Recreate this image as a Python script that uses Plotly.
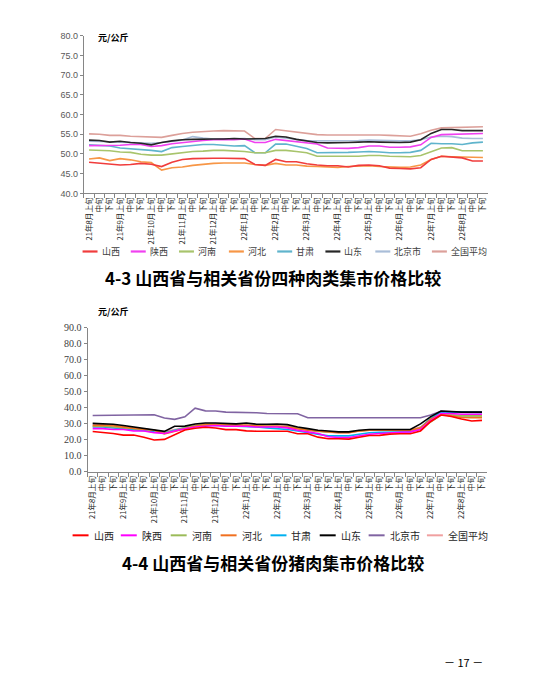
import plotly.graph_objects as go

# time axis: 21年8月 .. 22年8月, three ten-day periods each
months = ["21年8月", "21年9月", "21年10月", "21年11月", "21年12月", "22年1月", "22年2月",
          "22年3月", "22年4月", "22年5月", "22年6月", "22年7月", "22年8月"]
periods = ["上旬", "中旬", "下旬"]
categories = [m + p for m in months for p in periods]
tick_labels = [m + p if p == "上旬" else p for m in months for p in periods]

names = ["山西", "陕西", "河南", "河北", "甘肃", "山东", "北京市", "全国平均"]

# 4-3 四种肉类 (元/公斤)
shanxi_meat = [47.9, 47.7, 47.5, 47.2, 47.3, 47.6, 47.4, 46.8, 47.9, 48.6,
               48.8, 48.9, 48.9, 48.9, 48.8, 48.8, 47.3, 47.1, 48.6, 48.0,
               48.0, 47.5, 47.2, 47.0, 47.0, 46.7, 47.1, 47.2, 47.0, 46.4,
               46.3, 46.2, 46.5, 48.6, 49.4, 49.2, 49.0, 48.2, 48.2]
shaanxi_meat = [52.1, 52.1, 52.1, 52.2, 52.4, 52.4, 51.9, 52.1, 52.6, 52.9,
                53.2, 53.4, 53.6, 53.7, 53.6, 53.8, 52.9, 52.9, 53.7, 53.4,
                53.0, 52.7, 52.5, 51.5, 51.4, 51.4, 51.6, 52.0, 52.0, 51.7,
                51.7, 51.8, 52.3, 54.2, 54.9, 55.0, 55.0, 55.1, 55.2]
henan_meat = [51.0, 50.9, 50.8, 50.5, 50.4, 49.9, 49.7, 49.7, 50.0, 50.4,
              50.6, 50.7, 50.9, 50.9, 50.8, 50.6, 50.3, 50.3, 50.9, 50.9,
              50.6, 50.3, 49.4, 49.4, 49.4, 49.4, 49.4, 49.6, 49.6, 49.4,
              49.3, 49.3, 49.6, 50.6, 51.5, 51.6, 50.8, 50.8, 50.8]
hebei_meat = [48.7, 49.0, 48.3, 48.8, 48.5, 48.0, 47.8, 45.9, 46.5, 46.7,
              47.1, 47.4, 47.6, 47.7, 47.7, 47.7, 47.3, 47.1, 47.6, 47.2,
              47.2, 46.9, 46.8, 46.7, 46.6, 46.8, 46.9, 47.0, 46.8, 46.7,
              46.6, 46.7, 47.2, 48.6, 49.4, 49.3, 49.2, 49.1, 49.1]
gansu_meat = [52.3, 52.2, 52.0, 51.5, 51.3, 51.2, 50.9, 50.6, 51.6, 51.9,
              52.1, 52.4, 52.4, 52.2, 52.0, 52.1, 50.3, 50.3, 52.5, 52.5,
              52.0, 51.4, 50.3, 50.3, 50.3, 50.4, 50.5, 50.6, 50.5, 50.3,
              50.3, 50.4, 50.9, 52.7, 52.6, 52.6, 52.4, 52.8, 53.0]
shandong_meat = [53.5, 53.4, 53.0, 53.2, 52.9, 52.7, 52.3, 52.9, 53.3, 53.6,
                 53.7, 53.8, 53.8, 53.8, 53.9, 53.8, 53.8, 53.9, 54.5, 54.3,
                 53.7, 53.3, 52.9, 52.8, 52.8, 52.9, 53.0, 53.1, 53.0, 52.9,
                 52.9, 53.0, 53.6, 55.2, 56.2, 56.2, 55.9, 55.9, 55.9]
beijing_meat = [53.2, 53.2, 53.1, 53.0, 52.9, 52.9, 52.7, 52.9, 53.2, 53.5,
                54.4, 54.0, 53.8, 53.8, 53.9, 53.9, 53.6, 53.6, 54.3, 54.0,
                53.6, 53.4, 53.3, 53.3, 53.3, 53.3, 53.4, 53.5, 53.4, 53.3,
                53.3, 53.3, 53.6, 54.3, 54.5, 54.4, 54.0, 53.9, 53.9]
national_meat = [55.1, 55.0, 54.7, 54.7, 54.5, 54.4, 54.2, 54.2, 54.7, 55.2,
                 55.5, 55.7, 55.8, 55.9, 55.8, 55.8, 53.9, 53.9, 56.2, 55.9,
                 55.6, 55.2, 54.9, 54.8, 54.8, 54.8, 54.8, 54.9, 54.8, 54.7,
                 54.6, 54.5, 55.1, 56.0, 56.6, 56.7, 56.7, 56.8, 56.9]

# 4-4 猪肉 (元/公斤)
shanxi_pork = [25.2, 24.8, 24.0, 23.0, 23.0, 21.7, 19.9, 20.3, 23.2, 26.2,
               27.3, 27.9, 27.4, 26.4, 26.4, 25.6, 25.4, 25.4, 25.4, 25.4,
               23.8, 23.8, 21.7, 20.7, 20.7, 20.5, 21.6, 22.7, 22.8, 23.6,
               23.8, 23.8, 25.6, 31.5, 35.5, 34.6, 33.0, 31.8, 32.2]
shaanxi_pork = [27.0, 27.0, 26.5, 26.5, 25.5, 25.5, 24.5, 24.0, 25.5, 27.0,
                28.0, 28.5, 29.0, 28.5, 28.5, 28.5, 28.0, 28.0, 28.0, 27.5,
                26.0, 25.0, 24.0, 22.0, 21.5, 21.5, 22.5, 23.5, 24.0, 24.5,
                24.8, 25.0, 26.5, 32.0, 36.5, 36.5, 36.0, 36.0, 36.0]
henan_pork = [28.5, 28.5, 28.0, 27.5, 27.0, 26.5, 26.0, 24.5, 25.5, 27.5,
              28.8, 29.5, 29.8, 29.5, 29.3, 29.0, 28.8, 28.5, 28.5, 28.0,
              27.0, 26.0, 25.3, 25.0, 25.0, 25.0, 25.5, 26.0, 26.0, 26.0,
              26.0, 26.0, 27.0, 31.5, 35.5, 35.5, 35.0, 35.0, 35.0]
hebei_pork = [29.0, 29.2, 28.9, 28.0, 27.2, 26.7, 26.0, 23.8, 25.5, 27.2,
              28.5, 29.5, 29.8, 29.5, 29.2, 29.0, 28.8, 28.5, 28.5, 28.0,
              27.0, 26.0, 25.5, 25.0, 24.5, 24.5, 25.5, 26.0, 26.0, 26.0,
              26.0, 26.0, 27.5, 33.0, 36.0, 35.0, 34.0, 33.8, 33.8]
gansu_pork = [28.0, 28.0, 27.5, 27.0, 26.5, 25.8, 25.0, 24.5, 26.0, 27.5,
              28.5, 29.0, 29.0, 28.8, 28.5, 28.5, 28.0, 27.5, 27.0, 26.5,
              25.5, 24.5, 23.5, 22.5, 22.5, 22.5, 23.5, 24.5, 24.8, 25.0,
              25.0, 25.0, 27.5, 33.5, 37.5, 37.3, 37.0, 37.0, 37.0]
shandong_pork = [30.3, 30.2, 29.8, 29.0, 28.0, 27.2, 26.2, 25.3, 28.5, 28.6,
                 29.9, 30.5, 30.5, 30.3, 30.0, 30.5, 29.8, 29.8, 29.9, 29.5,
                 28.0, 27.0, 26.0, 25.5, 25.0, 25.0, 26.0, 26.5, 26.5, 26.5,
                 26.5, 26.5, 30.0, 34.5, 38.0, 37.5, 37.3, 37.3, 37.3]
beijing_pork = [35.2, 35.3, 35.3, 35.3, 35.4, 35.9, 35.7, 33.6, 32.8, 34.4,
                39.8, 38.1, 38.0, 37.3, 37.3, 37.3, 36.9, 36.5, 36.3, 36.3,
                36.3, 33.8, 33.8, 33.8, 33.8, 33.8, 33.8, 33.8, 33.8, 33.8,
                33.8, 33.8, 33.8, 35.5, 37.9, 37.5, 37.5, 37.5, 37.5]
national_pork = [29.5, 29.5, 29.0, 28.3, 27.5, 26.8, 26.0, 25.0, 26.5, 28.0,
                 29.3, 30.0, 30.2, 30.0, 29.8, 29.8, 29.3, 29.0, 29.0, 28.7,
                 27.5, 26.5, 25.5, 24.8, 24.5, 24.5, 25.5, 26.2, 26.3, 26.3,
                 26.3, 26.3, 28.0, 32.5, 36.3, 35.5, 35.0, 34.5, 34.5]

meat_series = [shanxi_meat, shaanxi_meat, henan_meat, hebei_meat,
               gansu_meat, shandong_meat, beijing_meat, national_meat]
pork_series = [shanxi_pork, shaanxi_pork, henan_pork, hebei_pork,
               gansu_pork, shandong_pork, beijing_pork, national_pork]

meat_colors = ["#f03c3c", "#f040f0", "#a8c46c", "#f79646", "#5fb4cc", "#262626", "#a9bdd8", "#dca09a"]
pork_colors = ["#ff0000", "#ff00ff", "#9bbb59", "#f07020", "#00b0f0", "#000000", "#8064a2", "#f0a0a0"]

# the page body has an 8px margin, so the figure is 8px smaller and all
# page positions below are measured from the window corner
OFF = 8
W, H = 547 - OFF, 698 - OFF
def px(x):
    return (x - OFF) / W
def py(y):
    return 1 - (y - OFF) / H

fig = go.Figure()

# draw order: national / beijing at back
order = [7, 6, 4, 2, 3, 1, 5, 0]
for i in order:
    fig.add_trace(go.Scatter(x=categories, y=meat_series[i], name=names[i], mode="lines",
                             line=dict(color=meat_colors[i], width=1.6),
                             showlegend=False, xaxis="x", yaxis="y"))
for i in order:
    fig.add_trace(go.Scatter(x=categories, y=pork_series[i], name=names[i], mode="lines",
                             line=dict(color=pork_colors[i], width=1.6),
                             showlegend=False, xaxis="x2", yaxis="y2"))

xcommon = dict(type="category", categoryorder="array", categoryarray=categories,
               tickmode="array", tickvals=categories, ticktext=tick_labels,
               tickangle=-90, ticks="outside", ticklen=4, tickson="boundaries",
               tickcolor="#868686", showline=True, linecolor="#868686", linewidth=1,
               showgrid=False, zeroline=False, range=[-0.5, 38.5],
               tickfont=dict(family="Noto Sans CJK SC", size=7.6, color="#262626"))
ycommon = dict(showline=True, linecolor="#868686", linewidth=1, ticks="outside",
               ticklen=3, tickcolor="#868686", showgrid=False, zeroline=False,
               tickformat=".1f")

fig.update_layout(
    width=W, height=H,
    margin=dict(l=0, r=0, t=0, b=0),
    paper_bgcolor="white", plot_bgcolor="white",
    showlegend=False,
    xaxis=dict(xcommon, domain=[px(83), px(488)], anchor="y"),
    yaxis=dict(ycommon, domain=[py(191), py(31)], anchor="x", range=[40, 80], dtick=5,
               tickfont=dict(family="Liberation Sans", size=9, color="#595959")),
    xaxis2=dict(xcommon, domain=[px(86.7), px(487)], anchor="y2"),
    yaxis2=dict(ycommon, domain=[py(473.7), py(327.3)], anchor="x2", range=[0, 90], dtick=10,
                tickfont=dict(family="Liberation Serif", size=10, color="#404040")),
)

# legend keys below each chart: short line + label
meat_key_x = [81.7, 130, 178.3, 228.3, 276.7, 325, 375, 431.7]
pork_key_x = [71.7, 120, 170, 220, 270, 319.3, 368.3, 426.7]
for i in range(len(names)):
    fig.add_shape(type="line", xref="paper", yref="paper",
                  x0=px(meat_key_x[i]), x1=px(meat_key_x[i] + 15), y0=py(250), y1=py(250),
                  line=dict(color=meat_colors[i], width=2.2))
    fig.add_annotation(text=names[i], x=px(meat_key_x[i] + 17), y=py(250),
                       xanchor="left", yanchor="middle",
                       font=dict(family="Noto Sans CJK SC", size=9, color="#404040"))
    fig.add_shape(type="line", xref="paper", yref="paper",
                  x0=px(pork_key_x[i]), x1=px(pork_key_x[i] + 16), y0=py(538), y1=py(538),
                  line=dict(color=pork_colors[i], width=2))
    fig.add_annotation(text=names[i], x=px(pork_key_x[i] + 19), y=py(538),
                       xanchor="left", yanchor="middle",
                       font=dict(family="Noto Sans CJK SC", size=10, color="#262626"))

annos = [
    dict(text="<b>元/公斤</b>", x=px(95), y=py(33), xanchor="left", yanchor="middle",
         font=dict(family="Noto Sans CJK SC", size=9, color="#000000")),
    dict(text="<b>元/公斤</b>", x=px(95), y=py(311), xanchor="left", yanchor="middle",
         font=dict(family="Noto Sans CJK SC", size=9, color="#000000")),
    dict(text="<b>4-3 山西省与相关省份四种肉类集市价格比较</b>", x=px(272), y=py(276),
         xanchor="center", yanchor="middle",
         font=dict(family="Noto Sans CJK SC", size=17, color="#000000")),
    dict(text="<b>4-4 山西省与相关省份猪肉集市价格比较</b>", x=px(272), y=py(566),
         xanchor="center", yanchor="middle",
         font=dict(family="Noto Sans CJK SC", size=17, color="#000000")),
    dict(text="－ 17 －", x=px(463), y=py(667), xanchor="center", yanchor="middle",
         font=dict(family="Noto Sans CJK SC", size=11, color="#000000")),
]
for a in annos:
    fig.add_annotation(showarrow=False, **a)
for a in fig.layout.annotations:
    a.xref = "paper"
    a.yref = "paper"
    a.showarrow = False

fig.write_html("out.html")
